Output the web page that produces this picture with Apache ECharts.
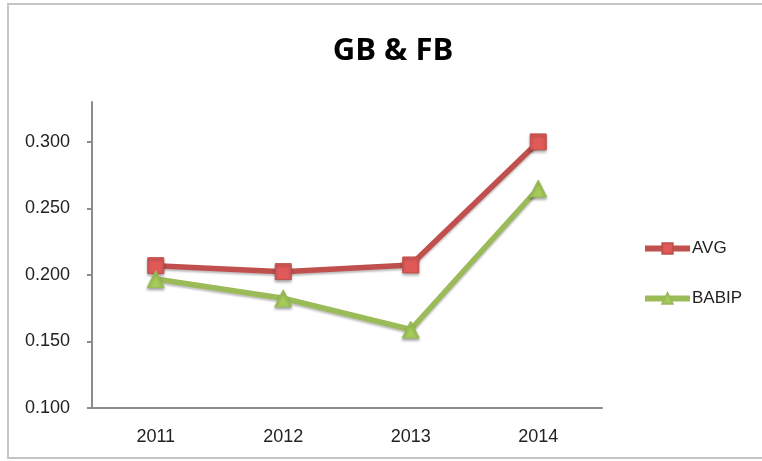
<!DOCTYPE html>
<html>
<head>
<meta charset="utf-8">
<script src="https://cdn.jsdelivr.net/npm/echarts@6/dist/echarts.min.js"></script>
<style>
  html, body { margin: 0; padding: 0; background: #fff; }
  #frame { position: absolute; left: 7px; top: 3px; width: 780px; height: 452px; border: 2px solid #c4c4c4; }
  #chart { position: absolute; left: 0; top: 0; width: 762px; height: 461px; }
</style>
</head>
<body>
<div id="frame"></div>
<div id="chart"></div>
<script>
var years = ['2011', '2012', '2013', '2014'];
var avg = [0.207, 0.2025, 0.2075, 0.300];
var babip = [0.197, 0.1825, 0.159, 0.265];
var yTicks = [0.1, 0.15, 0.2, 0.25, 0.3];

var myChart = echarts.init(document.getElementById('chart'));
var markerShadow = {
    shadowBlur: 3,
    shadowColor: 'rgba(0,0,0,0.35)',
    shadowOffsetY: 2
};
var option = {
    animation: false,
    title: {
        text: 'GB & FB',
        left: 388,
        textAlign: 'center',
        top: 31,
        textStyle: {
            fontFamily: 'Open Sans',
            fontSize: 31,
            fontWeight: 'bold',
            color: '#000'
        }
    },
    legend: {
        orient: 'vertical',
        left: 637,
        top: 235,
        itemWidth: 45,
        itemHeight: 13,
        itemGap: 33,
        lineStyle: { width: 6 },
        textStyle: {
            fontFamily: 'Liberation Sans',
            fontSize: 17,
            color: '#222',
            padding: [0, 0, 0, -3]
        },
        data: ['AVG', 'BABIP']
    },
    grid: {
        left: 92,
        right: 160,
        top: 102,
        bottom: 53
    },
    xAxis: {
        type: 'category',
        data: years,
        boundaryGap: true,
        axisLine: { lineStyle: { color: '#8c8c8c', width: 2 } },
        axisTick: { alignWithLabel: false, length: 5, lineStyle: { color: '#8c8c8c', width: 2 } },
        axisLabel: {
            margin: 20,
            fontFamily: 'Liberation Sans',
            fontSize: 18,
            color: '#222'
        }
    },
    yAxis: {
        type: 'value',
        min: 0.1,
        max: 0.33,
        interval: 0.05,
        splitLine: { show: false },
        axisLine: { show: true, lineStyle: { color: '#8c8c8c', width: 2 } },
        axisTick: { show: true, length: 5, inside: false, customValues: yTicks, lineStyle: { color: '#8c8c8c', width: 2 } },
        axisLabel: {
            customValues: yTicks,
            margin: 22,
            fontFamily: 'Liberation Sans',
            fontSize: 18,
            color: '#222',
            formatter: function (v) { return v.toFixed(3); }
        }
    },
    series: [{
        name: 'AVG',
        type: 'line',
        data: avg,
        symbol: 'rect',
        symbolSize: 16,
        lineStyle: { color: '#c0504d', width: 5.5, shadowBlur: 2, shadowColor: 'rgba(0,0,0,0.25)', shadowOffsetY: 2 },
        itemStyle: Object.assign({ color: '#e05a5a', borderColor: '#c0504d', borderWidth: 1 }, markerShadow)
    }, {
        name: 'BABIP',
        type: 'line',
        data: babip,
        symbol: 'triangle',
        symbolSize: 17,
        lineStyle: { color: '#9bbb59', width: 5.5, shadowBlur: 2, shadowColor: 'rgba(0,0,0,0.25)', shadowOffsetY: 2 },
        itemStyle: Object.assign({ color: '#a5cc5a', borderColor: '#9bbb59', borderWidth: 1 }, markerShadow)
    }]
};
myChart.setOption(option);
</script>
</body>
</html>
